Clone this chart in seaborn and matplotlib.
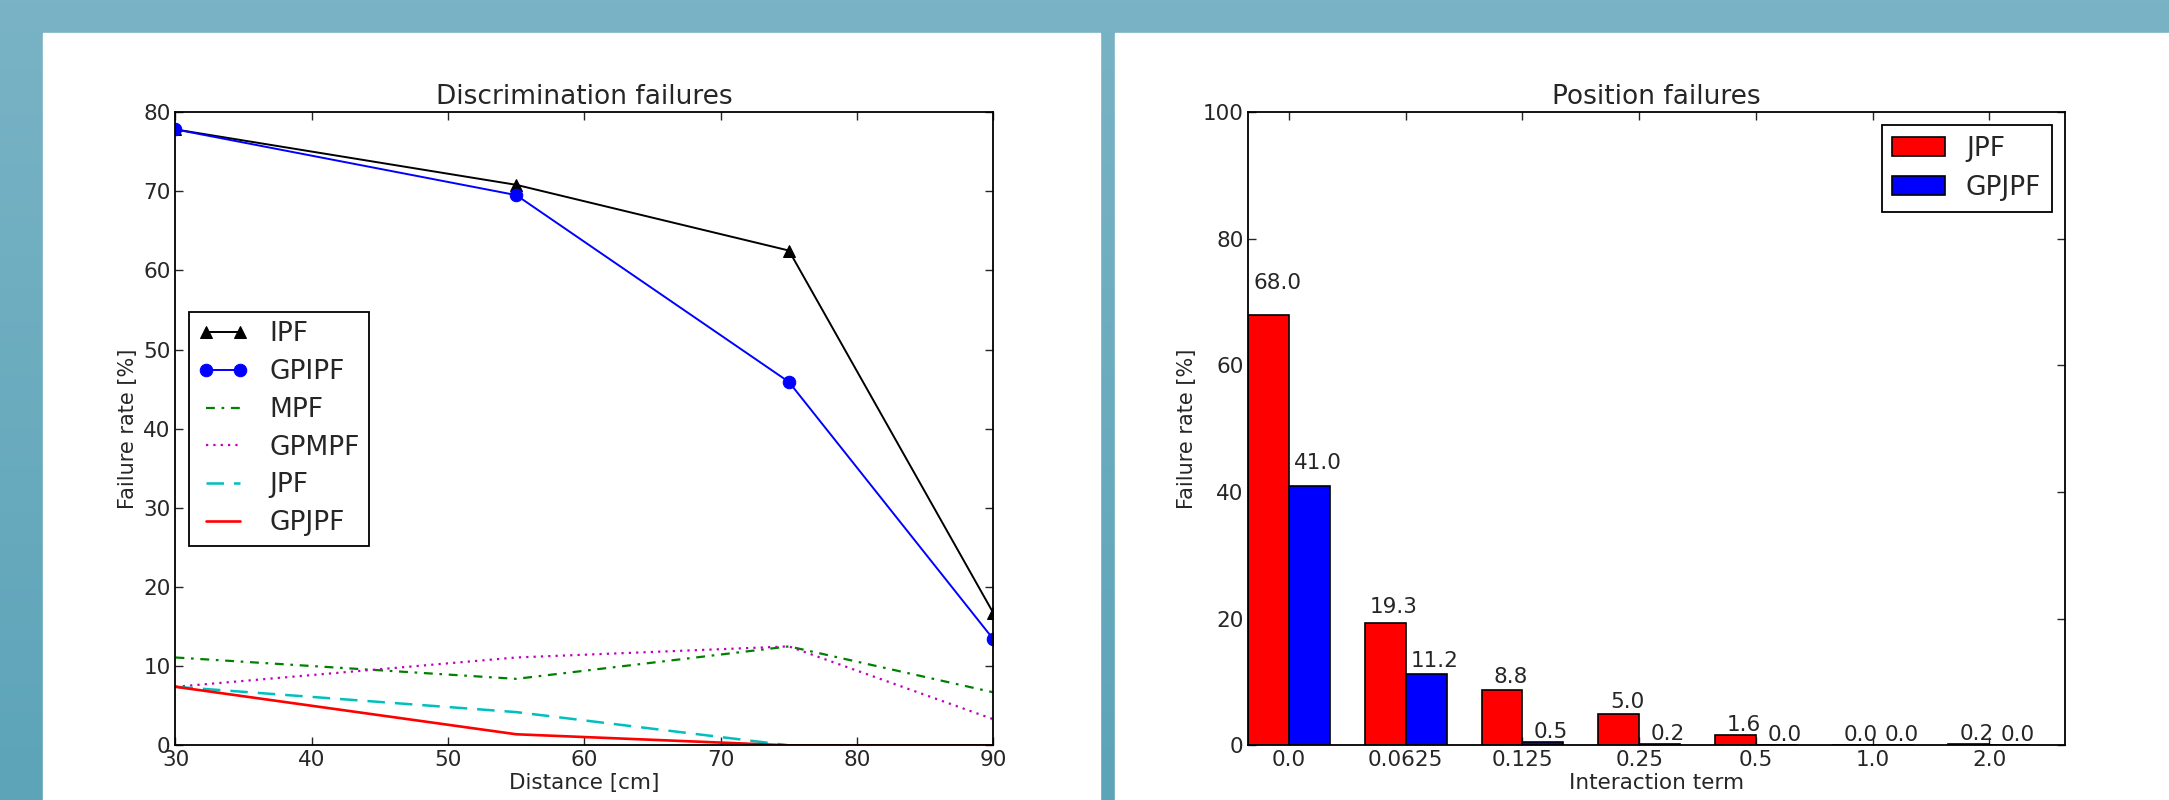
import numpy as np
import pandas as pd
import seaborn as sns
import matplotlib.pyplot as plt
from matplotlib.patches import Rectangle
from matplotlib.colors import LinearSegmentedColormap

# discrimination failures (left)
distance = [30, 55, 75, 90]
ipf = [77.8, 70.8, 62.5, 16.7]
gpipf = [77.8, 69.5, 45.9, 13.4]
mpf = [11.1, 8.4, 12.5, 6.7]
gpmpf = [7.4, 11.1, 12.5, 3.3]
jpf = [7.4, 4.2, 0.0, 0.0]
gpjpf = [7.4, 1.4, 0.0, 0.0]

# position failures (right)
terms = ['0.0', '0.0625', '0.125', '0.25', '0.5', '1.0', '2.0']
pos_jpf = [68.0, 19.3, 8.8, 5.0, 1.6, 0.0, 0.2]
pos_gpjpf = [41.0, 11.2, 0.5, 0.2, 0.0, 0.0, 0.0]

sns.set_style("ticks", {"xtick.direction": "in", "ytick.direction": "in",
                        "axes.edgecolor": "black"})
plt.rcParams['font.family'] = ['DejaVu Sans']
plt.rcParams['font.size'] = 15

fig = plt.figure(figsize=(21.69, 8), dpi=100)

# background: teal gradient + white panels
bg = fig.add_axes([0, 0, 1, 1])
bg.set_zorder(0)
cmap = LinearSegmentedColormap.from_list('bgc', ['#5da4b9', '#79b3c5'])
grad = np.linspace(0, 1, 256).reshape(-1, 1)
bg.imshow(grad, aspect='auto', cmap=cmap, extent=[0, 1, 0, 1], origin='lower')
bg.add_patch(Rectangle((43 / 2169, 0), (1100 - 43) / 2169, 767 / 800, color='white'))
bg.add_patch(Rectangle((1115 / 2169, 0), 1 - 1115 / 2169, 767 / 800, color='white'))
bg.set_xlim(0, 1)
bg.set_ylim(0, 1)
bg.axis('off')

# left plot
ax1 = fig.add_axes([0.0809, 0.0683, 0.3771, 0.7917])
ax1.set_zorder(1)
sns.lineplot(x=distance, y=ipf, ax=ax1, color='k', marker='^', markersize=9,
             markeredgecolor='k', lw=1.4, label='IPF')
sns.lineplot(x=distance, y=gpipf, ax=ax1, color='b', marker='o', markersize=9,
             markeredgecolor='b', lw=1.4, label='GPIPF')
sns.lineplot(x=distance, y=mpf, ax=ax1, color='#008000', dashes=(4, 3, 1.2, 3),
             lw=1.6, label='MPF')
sns.lineplot(x=distance, y=gpmpf, ax=ax1, color='#bf00bf', dashes=(1, 2.3),
             lw=1.6, label='GPMPF')
sns.lineplot(x=distance, y=jpf, ax=ax1, color='#00bfbf', dashes=(7, 4),
             lw=1.8, label='JPF')
sns.lineplot(x=distance, y=gpjpf, ax=ax1, color='red', lw=1.9, label='GPJPF')
ax1.set_xlim(30, 90)
ax1.set_ylim(0, 80)
ax1.set_xticks(range(30, 91, 10))
ax1.set_yticks(range(0, 81, 10))
ax1.set_title('Discrimination failures', fontsize=19)
ax1.set_xlabel('Distance [cm]', fontsize=15.5, labelpad=2)
ax1.set_ylabel('Failure rate [%]', fontsize=15)
ax1.tick_params(top=True, right=True, length=6, width=1, labelsize=15.5)
leg = ax1.legend(loc='center left', fontsize=19, numpoints=2, fancybox=False,
                 framealpha=1, edgecolor='black', borderaxespad=0.5,
                 handlelength=1.9, borderpad=0.35, labelspacing=0.45)
leg.get_frame().set_linewidth(1.3)
for s in ax1.spines.values():
    s.set_linewidth(1.3)

# right plot
df = pd.DataFrame({
    'term': terms * 2,
    'rate': pos_jpf + pos_gpjpf,
    'method': ['JPF'] * len(terms) + ['GPJPF'] * len(terms),
})
ax2 = fig.add_axes([0.5755, 0.0683, 0.3766, 0.7917])
ax2.set_zorder(1)
sns.barplot(data=df, x='term', y='rate', hue='method', ax=ax2,
            palette=['red', 'blue'], saturation=1, width=0.7,
            edgecolor='black', linewidth=1.2)
for cont in ax2.containers:
    for rect in cont:
        h = rect.get_height()
        ax2.annotate('%.1f' % h, (rect.get_x() + rect.get_width() / 2., 1.05 * h),
                     xytext=(6, 0), textcoords='offset points',
                     ha='center', va='bottom', fontsize=15.5)
ax2.set_xlim(-0.35, 6.65)
ax2.set_ylim(0, 100)
ax2.set_yticks(range(0, 101, 20))
ax2.set_title('Position failures', fontsize=19)
ax2.set_xlabel('Interaction term', fontsize=15.5, labelpad=2)
ax2.set_ylabel('Failure rate [%]', fontsize=15)
ax2.tick_params(top=True, right=True, length=6, width=1, labelsize=15.5)
leg2 = ax2.legend(loc='upper right', fontsize=19, fancybox=False, framealpha=1,
                  edgecolor='black', borderaxespad=0.5, borderpad=0.4)
leg2.get_frame().set_linewidth(1.3)
for s in ax2.spines.values():
    s.set_linewidth(1.3)

fig.savefig('out.png', dpi=100)
